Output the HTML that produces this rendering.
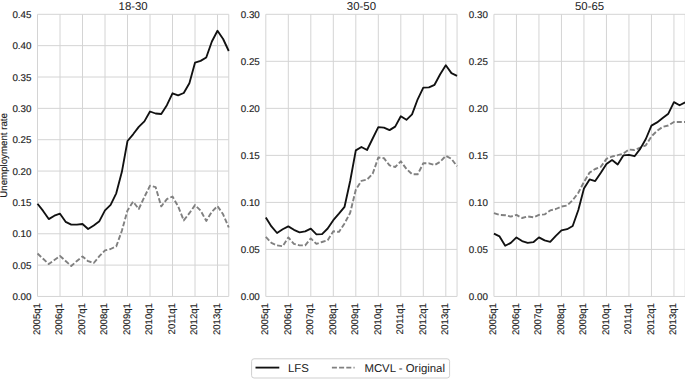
<!DOCTYPE html>
<html><head><meta charset="utf-8"><style>
html,body{margin:0;padding:0;background:#fff;width:685px;height:379px;overflow:hidden;}
svg{display:block;text-rendering:geometricPrecision;}
text{font-family:"Liberation Sans",sans-serif;fill:#222;}
.t{stroke:#222;stroke-width:0.15px;}
</style></head><body>
<svg width="685" height="379" viewBox="0 0 685 379">
<rect width="685" height="379" fill="#fff"/>
<path d="M37.50 296.45H228.75M37.50 265.10H228.75M37.50 233.75H228.75M37.50 202.40H228.75M37.50 171.05H228.75M37.50 139.70H228.75M37.50 108.35H228.75M37.50 77.00H228.75M37.50 45.65H228.75M37.50 14.30H228.75M37.50 14.30V296.45M60.00 14.30V296.45M82.50 14.30V296.45M105.00 14.30V296.45M127.50 14.30V296.45M150.00 14.30V296.45M172.50 14.30V296.45M195.00 14.30V296.45M217.50 14.30V296.45M228.75 14.30V296.45" stroke="#d4d4d4" stroke-width="1" fill="none"/>
<text x="31.50" y="300.05" text-anchor="end" class="t" font-size="9.8" fill="#222">0.00</text>
<text x="31.50" y="268.70" text-anchor="end" class="t" font-size="9.8" fill="#222">0.05</text>
<text x="31.50" y="237.35" text-anchor="end" class="t" font-size="9.8" fill="#222">0.10</text>
<text x="31.50" y="206.00" text-anchor="end" class="t" font-size="9.8" fill="#222">0.15</text>
<text x="31.50" y="174.65" text-anchor="end" class="t" font-size="9.8" fill="#222">0.20</text>
<text x="31.50" y="143.30" text-anchor="end" class="t" font-size="9.8" fill="#222">0.25</text>
<text x="31.50" y="111.95" text-anchor="end" class="t" font-size="9.8" fill="#222">0.30</text>
<text x="31.50" y="80.60" text-anchor="end" class="t" font-size="9.8" fill="#222">0.35</text>
<text x="31.50" y="49.25" text-anchor="end" class="t" font-size="9.8" fill="#222">0.40</text>
<text x="31.50" y="17.90" text-anchor="end" class="t" font-size="9.8" fill="#222">0.45</text>
<text transform="translate(39.90,303.1) rotate(-90)" text-anchor="end" class="t" font-size="9.6" fill="#222">2005q1</text>
<text transform="translate(62.40,303.1) rotate(-90)" text-anchor="end" class="t" font-size="9.6" fill="#222">2006q1</text>
<text transform="translate(84.90,303.1) rotate(-90)" text-anchor="end" class="t" font-size="9.6" fill="#222">2007q1</text>
<text transform="translate(107.40,303.1) rotate(-90)" text-anchor="end" class="t" font-size="9.6" fill="#222">2008q1</text>
<text transform="translate(129.90,303.1) rotate(-90)" text-anchor="end" class="t" font-size="9.6" fill="#222">2009q1</text>
<text transform="translate(152.40,303.1) rotate(-90)" text-anchor="end" class="t" font-size="9.6" fill="#222">2010q1</text>
<text transform="translate(174.90,303.1) rotate(-90)" text-anchor="end" class="t" font-size="9.6" fill="#222">2011q1</text>
<text transform="translate(197.40,303.1) rotate(-90)" text-anchor="end" class="t" font-size="9.6" fill="#222">2012q1</text>
<text transform="translate(219.90,303.1) rotate(-90)" text-anchor="end" class="t" font-size="9.6" fill="#222">2013q1</text>
<text x="133.12" y="9.8" text-anchor="middle"  font-size="11.4" fill="#222">18-30</text>
<polyline points="37.50,253.50 43.12,258.80 48.75,264.00 54.38,260.00 60.00,256.00 65.62,261.00 71.25,266.00 76.88,261.00 82.50,256.50 88.12,261.20 93.75,263.00 99.38,256.20 105.00,250.40 110.62,249.00 116.25,246.40 121.88,230.70 127.50,210.40 133.12,201.70 138.75,209.00 144.38,197.00 150.00,185.70 155.62,187.10 161.25,206.40 166.88,199.10 172.50,196.50 178.12,206.40 183.75,220.40 189.38,213.20 195.00,205.10 200.62,210.50 206.25,220.90 211.88,211.70 217.50,206.10 223.12,214.30 228.75,227.50" fill="none" stroke="#808080" stroke-width="1.9" stroke-dasharray="5.02 2.18" stroke-linejoin="round"/>
<polyline points="37.50,203.80 43.12,210.90 48.75,219.10 54.38,215.70 60.00,213.70 65.62,221.80 71.25,224.60 76.88,224.60 82.50,224.00 88.12,229.00 93.75,225.50 99.38,221.20 105.00,210.30 110.62,204.80 116.25,193.30 121.88,171.80 127.50,141.00 133.12,134.30 138.75,126.90 144.38,121.40 150.00,111.50 155.62,113.50 161.25,114.00 166.88,105.20 172.50,93.30 178.12,95.30 183.75,93.00 189.38,83.20 195.00,62.70 200.62,60.90 206.25,57.50 211.88,41.50 217.50,30.80 223.12,39.00 228.75,51.00" fill="none" stroke="#111" stroke-width="1.85" stroke-linejoin="round"/>
<path d="M265.80 296.45H457.05M265.80 249.42H457.05M265.80 202.40H457.05M265.80 155.38H457.05M265.80 108.35H457.05M265.80 61.32H457.05M265.80 14.30H457.05M265.80 14.30V296.45M288.30 14.30V296.45M310.80 14.30V296.45M333.30 14.30V296.45M355.80 14.30V296.45M378.30 14.30V296.45M400.80 14.30V296.45M423.30 14.30V296.45M445.80 14.30V296.45M457.05 14.30V296.45" stroke="#d4d4d4" stroke-width="1" fill="none"/>
<text x="259.80" y="300.05" text-anchor="end" class="t" font-size="9.8" fill="#222">0.00</text>
<text x="259.80" y="253.02" text-anchor="end" class="t" font-size="9.8" fill="#222">0.05</text>
<text x="259.80" y="206.00" text-anchor="end" class="t" font-size="9.8" fill="#222">0.10</text>
<text x="259.80" y="158.97" text-anchor="end" class="t" font-size="9.8" fill="#222">0.15</text>
<text x="259.80" y="111.95" text-anchor="end" class="t" font-size="9.8" fill="#222">0.20</text>
<text x="259.80" y="64.92" text-anchor="end" class="t" font-size="9.8" fill="#222">0.25</text>
<text x="259.80" y="17.90" text-anchor="end" class="t" font-size="9.8" fill="#222">0.30</text>
<text transform="translate(268.20,303.1) rotate(-90)" text-anchor="end" class="t" font-size="9.6" fill="#222">2005q1</text>
<text transform="translate(290.70,303.1) rotate(-90)" text-anchor="end" class="t" font-size="9.6" fill="#222">2006q1</text>
<text transform="translate(313.20,303.1) rotate(-90)" text-anchor="end" class="t" font-size="9.6" fill="#222">2007q1</text>
<text transform="translate(335.70,303.1) rotate(-90)" text-anchor="end" class="t" font-size="9.6" fill="#222">2008q1</text>
<text transform="translate(358.20,303.1) rotate(-90)" text-anchor="end" class="t" font-size="9.6" fill="#222">2009q1</text>
<text transform="translate(380.70,303.1) rotate(-90)" text-anchor="end" class="t" font-size="9.6" fill="#222">2010q1</text>
<text transform="translate(403.20,303.1) rotate(-90)" text-anchor="end" class="t" font-size="9.6" fill="#222">2011q1</text>
<text transform="translate(425.70,303.1) rotate(-90)" text-anchor="end" class="t" font-size="9.6" fill="#222">2012q1</text>
<text transform="translate(448.20,303.1) rotate(-90)" text-anchor="end" class="t" font-size="9.6" fill="#222">2013q1</text>
<text x="361.43" y="9.8" text-anchor="middle"  font-size="11.4" fill="#222">30-50</text>
<polyline points="265.80,236.90 271.43,242.90 277.05,245.40 282.68,246.20 288.30,237.40 293.93,243.90 299.55,245.40 305.18,245.40 310.80,238.40 316.43,243.90 322.05,242.00 327.68,240.20 333.30,231.30 338.93,231.90 344.55,223.40 350.18,212.80 355.80,189.70 361.43,180.90 367.05,179.60 372.68,173.80 378.30,157.50 383.93,158.20 389.55,165.40 395.18,167.00 400.80,161.30 406.43,168.90 412.05,174.20 417.68,174.30 423.30,163.30 428.93,163.30 434.55,165.10 440.18,161.80 445.80,155.90 451.43,158.80 457.05,166.30" fill="none" stroke="#808080" stroke-width="1.9" stroke-dasharray="5.02 2.18" stroke-linejoin="round"/>
<polyline points="265.80,217.40 271.43,226.40 277.05,233.00 282.68,229.30 288.30,226.40 293.93,229.80 299.55,232.30 305.18,231.30 310.80,228.60 316.43,234.30 322.05,234.20 327.68,228.50 333.30,220.20 338.93,213.70 344.55,206.80 350.18,181.00 355.80,150.40 361.43,147.00 367.05,150.00 372.68,138.50 378.30,127.20 383.93,127.60 389.55,130.10 395.18,126.60 400.80,116.20 406.43,119.80 412.05,114.40 417.68,99.30 423.30,87.70 428.93,87.40 434.55,84.80 440.18,74.30 445.80,65.20 451.43,73.10 457.05,75.90" fill="none" stroke="#111" stroke-width="1.85" stroke-linejoin="round"/>
<path d="M493.95 296.45H685.20M493.95 249.42H685.20M493.95 202.40H685.20M493.95 155.38H685.20M493.95 108.35H685.20M493.95 61.32H685.20M493.95 14.30H685.20M493.95 14.30V296.45M516.45 14.30V296.45M538.95 14.30V296.45M561.45 14.30V296.45M583.95 14.30V296.45M606.45 14.30V296.45M628.95 14.30V296.45M651.45 14.30V296.45M673.95 14.30V296.45M685.20 14.30V296.45" stroke="#d4d4d4" stroke-width="1" fill="none"/>
<text x="487.95" y="300.05" text-anchor="end" class="t" font-size="9.8" fill="#222">0.00</text>
<text x="487.95" y="253.02" text-anchor="end" class="t" font-size="9.8" fill="#222">0.05</text>
<text x="487.95" y="206.00" text-anchor="end" class="t" font-size="9.8" fill="#222">0.10</text>
<text x="487.95" y="158.97" text-anchor="end" class="t" font-size="9.8" fill="#222">0.15</text>
<text x="487.95" y="111.95" text-anchor="end" class="t" font-size="9.8" fill="#222">0.20</text>
<text x="487.95" y="64.92" text-anchor="end" class="t" font-size="9.8" fill="#222">0.25</text>
<text x="487.95" y="17.90" text-anchor="end" class="t" font-size="9.8" fill="#222">0.30</text>
<text transform="translate(496.35,303.1) rotate(-90)" text-anchor="end" class="t" font-size="9.6" fill="#222">2005q1</text>
<text transform="translate(518.85,303.1) rotate(-90)" text-anchor="end" class="t" font-size="9.6" fill="#222">2006q1</text>
<text transform="translate(541.35,303.1) rotate(-90)" text-anchor="end" class="t" font-size="9.6" fill="#222">2007q1</text>
<text transform="translate(563.85,303.1) rotate(-90)" text-anchor="end" class="t" font-size="9.6" fill="#222">2008q1</text>
<text transform="translate(586.35,303.1) rotate(-90)" text-anchor="end" class="t" font-size="9.6" fill="#222">2009q1</text>
<text transform="translate(608.85,303.1) rotate(-90)" text-anchor="end" class="t" font-size="9.6" fill="#222">2010q1</text>
<text transform="translate(631.35,303.1) rotate(-90)" text-anchor="end" class="t" font-size="9.6" fill="#222">2011q1</text>
<text transform="translate(653.85,303.1) rotate(-90)" text-anchor="end" class="t" font-size="9.6" fill="#222">2012q1</text>
<text transform="translate(676.35,303.1) rotate(-90)" text-anchor="end" class="t" font-size="9.6" fill="#222">2013q1</text>
<text x="589.58" y="9.8" text-anchor="middle"  font-size="11.4" fill="#222">50-65</text>
<polyline points="493.95,213.10 499.57,214.90 505.20,215.20 510.82,216.60 516.45,214.90 522.08,218.00 527.70,216.40 533.33,217.30 538.95,214.90 544.58,214.40 550.20,210.40 555.83,209.00 561.45,206.50 567.08,205.50 572.70,200.20 578.33,192.80 583.95,182.00 589.58,172.60 595.20,169.00 600.83,166.80 606.45,158.90 612.08,156.50 617.70,155.20 623.33,153.60 628.95,149.50 634.58,150.00 640.20,147.60 645.83,145.30 651.45,136.40 657.08,130.80 662.70,126.90 668.33,125.50 673.95,122.00 679.58,121.90 685.20,122.00" fill="none" stroke="#808080" stroke-width="1.9" stroke-dasharray="5.02 2.18" stroke-linejoin="round"/>
<polyline points="493.95,233.70 499.57,236.40 505.20,245.80 510.82,242.90 516.45,237.40 522.08,241.10 527.70,242.90 533.33,242.20 538.95,237.40 544.58,240.40 550.20,241.90 555.83,235.80 561.45,230.30 567.08,229.20 572.70,226.00 578.33,210.00 583.95,188.50 589.58,179.40 595.20,181.10 600.83,172.80 606.45,164.00 612.08,160.10 617.70,164.50 623.33,155.40 628.95,154.90 634.58,156.20 640.20,148.90 645.83,139.00 651.45,125.60 657.08,122.40 662.70,118.10 668.33,113.70 673.95,102.10 679.58,105.30 685.20,102.40" fill="none" stroke="#111" stroke-width="1.85" stroke-linejoin="round"/>
<text transform="translate(6.9,155.4) rotate(-90)" text-anchor="middle" class="t" font-size="9.7" fill="#222">Unemployment rate</text>
<rect x="251.6" y="358.8" width="198" height="19.2" rx="2.5" fill="#fff" stroke="#cfcfcf" stroke-width="1"/>
<path d="M255.5 367.6H279.3" stroke="#111" stroke-width="1.85"/>
<text x="288" y="371.6"  font-size="11.4" fill="#222">LFS</text>
<path d="M331.9 367.6H354.6" stroke="#808080" stroke-width="1.9" stroke-dasharray="5.02 2.18"/>
<text x="364.4" y="371.6"  font-size="11.4" fill="#222">MCVL - Original</text>
</svg>
</body></html>
